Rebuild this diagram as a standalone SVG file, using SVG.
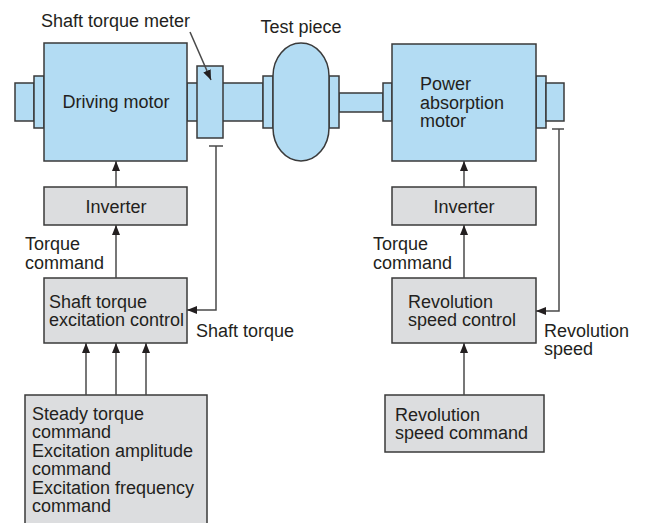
<svg xmlns="http://www.w3.org/2000/svg" width="647" height="523" viewBox="0 0 647 523">
<defs>
<marker id="ah" viewBox="0 0 10 10" refX="10" refY="5" markerWidth="10" markerHeight="10" markerUnits="userSpaceOnUse" orient="auto">
<path d="M0,1 L10,5 L0,9 Z" fill="#231f20"/>
</marker>
</defs>
<style>
.blue{fill:#b3dcf3;stroke:#3a3a3a;stroke-width:1.5}
.gray{fill:#dcdddf;stroke:#3a3a3a;stroke-width:1.5}
.ln{fill:none;stroke:#4a4a4a;stroke-width:1.5}
.ar{fill:none;stroke:#4a4a4a;stroke-width:1.5;marker-end:url(#ah)}
text{font-family:"Liberation Sans",Arial,sans-serif;font-size:18px;fill:#231f20}
.c{text-anchor:middle}
</style>
<rect width="647" height="523" fill="#fff"/>

<g id="mechanical">
<rect class="blue" x="15" y="83" width="19" height="38"/>
<rect class="blue" x="34" y="76" width="10" height="52"/>
<rect class="blue" x="187" y="83" width="76" height="38"/>
<rect class="blue" x="263" y="76" width="10" height="52"/>
<rect class="blue" x="339" y="93" width="44" height="19"/>
<rect class="blue" x="329" y="76" width="10" height="52"/>
<rect class="blue" x="383" y="83" width="9" height="38"/>
<rect class="blue" x="536" y="76" width="10" height="52"/>
<rect class="blue" x="546" y="83" width="18" height="38"/>
</g>

<g id="driving-motor">
<rect class="blue" x="44" y="43" width="143" height="118"/>
<text x="116" y="108" class="c">Driving motor</text>
</g>

<g id="torque-meter">
<rect class="blue" x="197" y="66" width="26" height="72"/>
<text x="41" y="27">Shaft torque meter</text>
</g>

<g id="test-piece">
<path class="blue" d="M273,76 A28,33 0 0 1 329,76 V128 A28,33 0 0 1 273,128 Z"/>
<text x="301" y="33" class="c">Test piece</text>
</g>

<g id="power-motor">
<rect class="blue" x="392" y="44" width="144" height="117"/>
<text x="420" y="90">Power</text>
<text x="420" y="108.5">absorption</text>
<text x="420" y="127">motor</text>
</g>

<g id="inverter-left">
<rect class="gray" x="44" y="187" width="143" height="38"/>
<text x="116" y="213" class="c">Inverter</text>
</g>

<g id="inverter-right">
<rect class="gray" x="392" y="187" width="144" height="38"/>
<text x="464" y="213" class="c">Inverter</text>
</g>

<g id="shaft-torque-control">
<rect class="gray" x="44" y="278" width="143" height="65"/>
<text x="49" y="308">Shaft torque</text>
<text x="49" y="326">excitation control</text>
</g>

<g id="speed-control">
<rect class="gray" x="392" y="278" width="144" height="65"/>
<text x="408" y="308">Revolution</text>
<text x="408" y="326">speed control</text>
</g>

<g id="command-box">
<rect class="gray" x="25" y="395" width="182" height="140"/>
<text x="32" y="420">Steady torque</text>
<text x="32" y="438">command</text>
<text x="32" y="457">Excitation amplitude</text>
<text x="32" y="475">command</text>
<text x="32" y="494">Excitation frequency</text>
<text x="32" y="512">command</text>
</g>

<g id="speed-command">
<rect class="gray" x="385" y="395" width="159" height="57"/>
<text x="395" y="421">Revolution</text>
<text x="395" y="439">speed command</text>
</g>

<g id="connectors">
<line class="ar" x1="190" y1="32" x2="211" y2="80"/>
<line class="ar" x1="116" y1="187" x2="116" y2="161"/>
<line class="ar" x1="116" y1="278" x2="116" y2="225"/>
<line class="ar" x1="464" y1="187" x2="464" y2="161"/>
<line class="ar" x1="464" y1="278" x2="464" y2="225"/>
<line class="ln" x1="209" y1="146" x2="223" y2="146"/>
<polyline class="ar" points="216,146 216,310 187,310"/>
<line class="ln" x1="552" y1="129" x2="564" y2="129"/>
<polyline class="ar" points="559,129 559,311 536,311"/>
<line class="ar" x1="86" y1="395" x2="86" y2="343"/>
<line class="ar" x1="116" y1="395" x2="116" y2="343"/>
<line class="ar" x1="146" y1="395" x2="146" y2="343"/>
<line class="ar" x1="464" y1="395" x2="464" y2="343"/>
</g>

<g id="labels">
<text x="25" y="250">Torque</text>
<text x="25" y="269">command</text>
<text x="373" y="250">Torque</text>
<text x="373" y="269">command</text>
<text x="196" y="337">Shaft torque</text>
<text x="544" y="337">Revolution</text>
<text x="544" y="355">speed</text>
</g>
</svg>
